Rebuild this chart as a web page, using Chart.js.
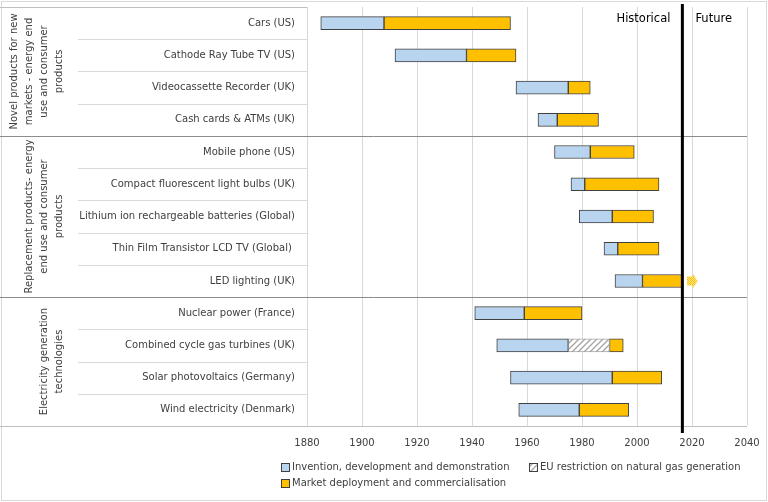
<!DOCTYPE html>
<html>
<head>
<meta charset="utf-8">
<script src="https://cdn.jsdelivr.net/npm/chart.js@4.4.0/dist/chart.umd.min.js"></script>
<style>
  body { margin: 0; background: #fff; }
  #wrap { width: 768px; height: 502px; position: relative; }
</style>
</head>
<body>
<div id="wrap"><canvas id="timelineChart"></canvas></div>
<script>
// Technologies, top to bottom
const categories = [
    'Cars (US)',
    'Cathode Ray Tube TV (US)',
    'Videocassette Recorder (UK)',
    'Cash cards & ATMs (UK)',
    'Mobile phone (US)',
    'Compact fluorescent light bulbs (UK)',
    'Lithium ion rechargeable batteries (Global)',
    'Thin Film Transistor LCD TV (Global) ',
    'LED lighting (UK)',
    'Nuclear power (France)',
    'Combined cycle gas turbines (UK)',
    'Solar photovoltaics (Germany)',
    'Wind electricity (Denmark)'
];

// Years
const inventionStart = [1885, 1912, 1956, 1964, 1970, 1976, 1979, 1988, 1992, 1941, 1949, 1954, 1957];
const inventionEnd   = [1908, 1938, 1975, 1971, 1983, 1981, 1991, 1993, 2002, 1959, 1975, 1991, 1979];
const restrictionStart = [null, null, null, null, null, null, null, null, null, null, 1975, null, null];
const restrictionEnd   = [null, null, null, null, null, null, null, null, null, null, 1990, null, null];
const marketStart = [1908, 1938, 1975, 1971, 1983, 1981, 1991, 1993, 2002, 1959, 1990, 1991, 1979];
const marketEnd   = [1954, 1956, 1983, 1986, 1999, 2008, 2006, 2008, 2016.3, 1980, 1995, 2009, 1997];

// LED lighting continues into the future
const ledFutureRow = 8;
const ledFuture = [2018.2, 2022];

const currentYear = 2016.5;

// Category groups
const groupNames = [
    ['Novel products for new', 'markets - energy end', 'use and consumer', 'products'],
    ['Replacement products- energy', 'end use and consumer', 'products'],
    ['Electricity generation', 'technologies']
];
const groupSizes = [4, 5, 4];

const xTicks = [1880, 1900, 1920, 1940, 1960, 1980, 2000, 2020, 2040];

const seriesLabels = [
    'Invention, development and demonstration',
    'EU restriction on natural gas generation',
    'Market deployment and commercialisation'
];

const blue = '#b8d4ee';
const yellow = '#ffc000';
const edge = '#404040';
const textColor = '#404040';
const font = 'DejaVu Sans';

function hatchPattern() {
    const c = document.createElement('canvas');
    c.width = 6; c.height = 6;
    const g = c.getContext('2d');
    g.fillStyle = '#fff';
    g.fillRect(0, 0, 6, 6);
    g.strokeStyle = '#a6a6a6';
    g.lineWidth = 1.4;
    g.beginPath();
    g.moveTo(-1, 7); g.lineTo(7, -1);
    g.moveTo(-4, 4); g.lineTo(4, -4);
    g.moveTo(2, 10); g.lineTo(10, 2);
    g.stroke();
    return g.createPattern(c, 'repeat');
}

function dotPattern() {
    const c = document.createElement('canvas');
    c.width = 2; c.height = 2;
    const g = c.getContext('2d');
    g.fillStyle = '#ffe690';
    g.fillRect(0, 0, 2, 2);
    g.fillStyle = yellow;
    g.fillRect(0, 0, 1, 1);
    g.fillRect(1, 1, 1, 1);
    return g.createPattern(c, 'repeat');
}

const hatch = hatchPattern();
const dots = dotPattern();

function pairs(a, b) {
    return a.map((v, i) => (v === null ? null : [v, b[i]]));
}

const decorations = {
    id: 'decorations',
    beforeDraw(chart) {
        const ctx = chart.ctx;
        ctx.save();
        ctx.strokeStyle = '#d9d9d9';
        ctx.lineWidth = 1;
        ctx.strokeRect(1.5, 1.5, chart.width - 3, chart.height - 3);
        ctx.restore();
    },
    afterDraw(chart) {
        const { ctx, chartArea: a, scales: { x, y } } = chart;
        const step = y.getPixelForValue(1) - y.getPixelForValue(0);
        ctx.save();

        // label area frame
        ctx.lineWidth = 1;
        ctx.strokeStyle = '#bfbfbf';
        ctx.beginPath();
        ctx.moveTo(0, Math.round(a.top) + 0.5); ctx.lineTo(a.left, Math.round(a.top) + 0.5);
        ctx.moveTo(0, Math.round(a.bottom) + 0.5); ctx.lineTo(a.right, Math.round(a.bottom) + 0.5);
        ctx.stroke();

        // row separators
        let groupEnds = [];
        let acc = 0;
        groupSizes.forEach(s => { acc += s; groupEnds.push(acc); });
        for (let i = 1; i < categories.length; i++) {
            const yy = Math.round(y.getPixelForValue(i) - step / 2) + 0.5;
            ctx.beginPath();
            if (groupEnds.includes(i)) {
                ctx.strokeStyle = '#8c8c8c';
                ctx.moveTo(0, yy); ctx.lineTo(a.right, yy);
            } else {
                ctx.strokeStyle = '#d9d9d9';
                ctx.moveTo(78, yy); ctx.lineTo(a.left, yy);
            }
            ctx.stroke();
        }

        // group labels
        ctx.fillStyle = textColor;
        ctx.font = '10px "' + font + '"';
        ctx.textAlign = 'center';
        ctx.textBaseline = 'middle';
        let first = 0;
        groupNames.forEach((lines, g) => {
            const top = y.getPixelForValue(first) - step / 2;
            const bottom = y.getPixelForValue(first + groupSizes[g] - 1) + step / 2;
            const cy = (top + bottom) / 2;
            lines.forEach((line, j) => {
                const cx = 59 - (lines.length - 1 - j) * 15;
                ctx.save();
                ctx.translate(cx, cy);
                ctx.rotate(-Math.PI / 2);
                ctx.fillText(line, 0, 0);
                ctx.restore();
            });
            first += groupSizes[g];
        });

        // LED future arrow
        const ay = y.getPixelForValue(ledFutureRow);
        const ax0 = x.getPixelForValue(ledFuture[0]);
        const ax1 = x.getPixelForValue(ledFuture[1]);
        const neck = ax0 + (ax1 - ax0) * 0.55;
        ctx.fillStyle = dots;
        ctx.beginPath();
        ctx.moveTo(ax0, ay - 4.5);
        ctx.lineTo(neck, ay - 4.5);
        ctx.lineTo(neck, ay - 7.5);
        ctx.lineTo(ax1, ay);
        ctx.lineTo(neck, ay + 7.5);
        ctx.lineTo(neck, ay + 4.5);
        ctx.lineTo(ax0, ay + 4.5);
        ctx.closePath();
        ctx.fill();

        // now line
        const nx = x.getPixelForValue(currentYear);
        ctx.strokeStyle = '#000';
        ctx.lineWidth = 3;
        ctx.beginPath();
        ctx.moveTo(nx, a.top - 3);
        ctx.lineTo(nx, a.bottom + 7);
        ctx.stroke();

        ctx.fillStyle = '#000';
        ctx.font = '11.5px "' + font + '"';
        ctx.textBaseline = 'middle';
        ctx.textAlign = 'right';
        ctx.fillText('Historical', nx - 12, a.top + 12);
        ctx.textAlign = 'left';
        ctx.fillText('Future', nx + 13, a.top + 12);

        // legend
        const fills = [blue, hatch, yellow];
        const spots = [[281, 467], [529, 467], [281, 483]];
        ctx.font = '10px "' + font + '"';
        spots.forEach((p, i) => {
            ctx.fillStyle = fills[i];
            ctx.fillRect(p[0], p[1] - 4, 8, 8);
            ctx.strokeStyle = edge;
            ctx.lineWidth = 1;
            ctx.strokeRect(p[0] + 0.5, p[1] - 3.5, 8, 8);
            ctx.fillStyle = textColor;
            ctx.textAlign = 'left';
            ctx.fillText(seriesLabels[i], p[0] + 11, p[1]);
        });

        ctx.restore();
    }
};

const ctx = document.getElementById('timelineChart').getContext('2d');
new Chart(ctx, {
    type: 'bar',
    data: {
        labels: categories,
        datasets: [
            {
                label: seriesLabels[0],
                data: pairs(inventionStart, inventionEnd),
                backgroundColor: blue,
                borderColor: edge,
                borderWidth: 1,
                borderSkipped: false,
                grouped: false,
                barThickness: 13
            },
            {
                label: seriesLabels[1],
                data: pairs(restrictionStart, restrictionEnd),
                backgroundColor: hatch,
                borderColor: '#a6a6a6',
                borderWidth: 1,
                borderSkipped: false,
                grouped: false,
                barThickness: 13
            },
            {
                label: seriesLabels[2],
                data: pairs(marketStart, marketEnd),
                backgroundColor: yellow,
                borderColor: edge,
                borderWidth: 1,
                borderSkipped: false,
                grouped: false,
                barThickness: 13
            }
        ]
    },
    options: {
        indexAxis: 'y',
        responsive: true,
        maintainAspectRatio: false,
        animation: false,
        layout: { padding: { left: 0, right: 21, top: 7, bottom: 0 } },
        plugins: {
            legend: { display: false },
            tooltip: { enabled: false }
        },
        scales: {
            x: {
                type: 'linear',
                min: xTicks[0],
                max: xTicks[xTicks.length - 1],
                afterBuildTicks: scale => { scale.ticks = xTicks.map(v => ({ value: v })); },
                afterFit: scale => {
                    scale.height = 76;
                    scale.paddingLeft = 0;
                    scale.paddingRight = 0;
                },
                grid: { color: '#d9d9d9', drawTicks: false },
                border: { display: false },
                ticks: {
                    padding: 11,
                    color: textColor,
                    font: { family: font, size: 10 },
                    callback: v => String(v)
                }
            },
            y: {
                afterFit: scale => {
                    scale.width = 307;
                    scale.paddingTop = 0;
                    scale.paddingBottom = 0;
                },
                grid: { display: false, drawTicks: false },
                border: { display: false },
                ticks: {
                    padding: 12,
                    color: textColor,
                    font: { family: font, size: 10 }
                }
            }
        }
    },
    plugins: [decorations]
});
</script>
</body>
</html>
